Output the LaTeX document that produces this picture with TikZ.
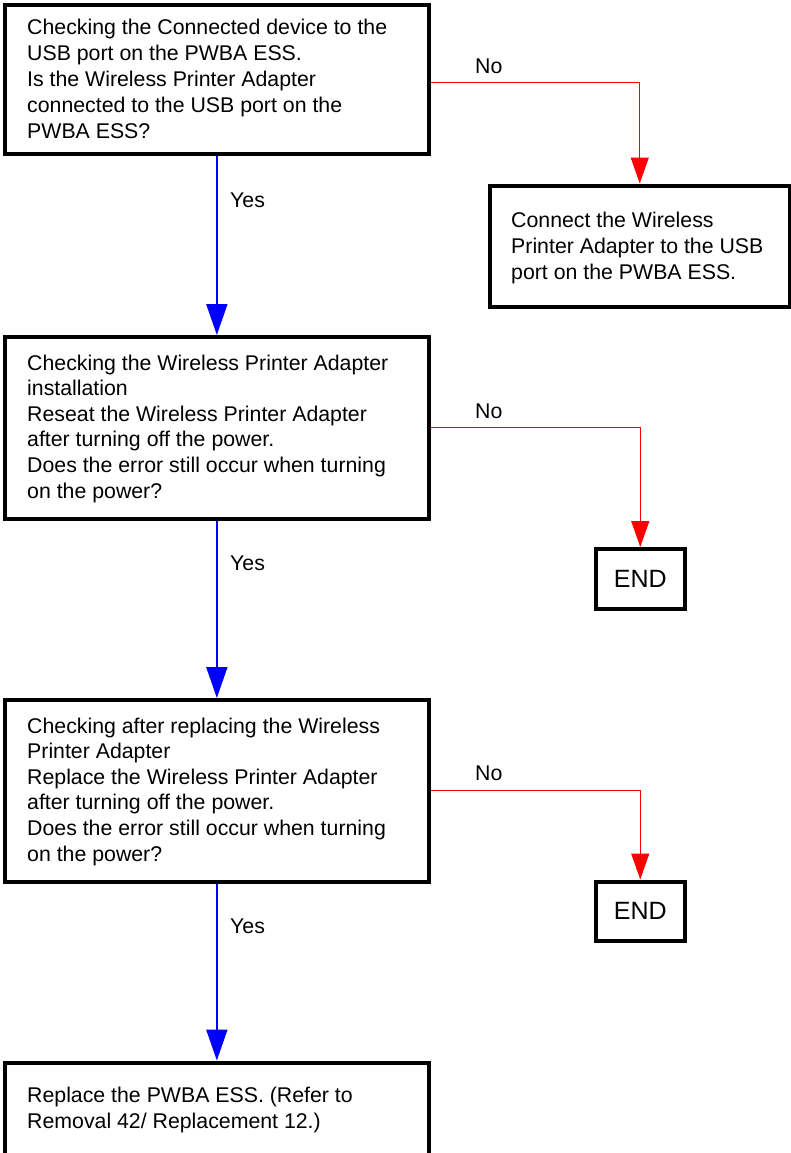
\documentclass[tikz,border=0pt]{standalone}
\usepackage{fontspec}
\setmainfont{Liberation Sans}
\usetikzlibrary{arrows.meta}
\tikzset{
  box/.style={draw=black, line width=4pt, rectangle, inner sep=0pt, fill=white},
  txt/.style={align=left, inner sep=0pt, anchor=base west, font=\fontsize{21.3pt}{26pt}\selectfont},
  txtb/.style={align=left, inner sep=0pt, anchor=base west, font=\fontsize{21.3pt}{25.6pt}\selectfont},
  lbl/.style={inner sep=0pt, anchor=base west, font=\fontsize{21.3pt}{26pt}\selectfont},
  endtxt/.style={font=\fontsize{25pt}{30pt}\selectfont},
  yesarrow/.style={draw=blue, line width=2pt, -{Triangle[length=31pt,width=21pt]}},
  noarrow/.style={draw=red, line width=1pt, -{Triangle[length=26pt,width=18pt]}}
}
\begin{document}
\begin{tikzpicture}[x=1pt,y=-1pt]
\useasboundingbox (0,0) rectangle (791,1153);
\clip (0,0) rectangle (791,1153);
\fill[white] (0,0) rectangle (791,1153);
% boxes
\node[box, minimum width=423.7pt, minimum height=148.5pt] (b1) at (216.85,79.25) {};
\node[box, minimum width=300.5pt, minimum height=121pt] (b2) at (639.75,246) {};
\node[box, minimum width=423.7pt, minimum height=181.5pt] (b3) at (216.85,427.75) {};
\node[box, minimum width=89.5pt, minimum height=59.5pt, endtxt] (e1) at (640.25,578.75) {END};
\node[box, minimum width=423.7pt, minimum height=181.5pt] (b4) at (216.85,790.75) {};
\node[box, minimum width=89.5pt, minimum height=59pt, endtxt] (e2) at (640.25,911) {END};
\node[box, minimum width=423.7pt, minimum height=137.5pt] (b5) at (216.85,1131.25) {};
% texts (anchored at the baseline of the last line)
\node[txt] (t1) at (27,139) {Checking the Connected device to the\\USB port on the PWBA ESS.\\Is the Wireless Printer Adapter\\connected to the USB port on the\\PWBA ESS?};
\node[txt] (t2) at (511,279) {Connect the Wireless\\Printer Adapter to the USB\\port on the PWBA ESS.};
\node[txtb] (t3) at (27,498) {Checking the Wireless Printer Adapter\\installation\\Reseat the Wireless Printer Adapter\\after turning off the power.\\Does the error still occur when turning\\on the power?};
\node[txtb] (t4) at (27,861) {Checking after replacing the Wireless\\Printer Adapter\\Replace the Wireless Printer Adapter\\after turning off the power.\\Does the error still occur when turning\\on the power?};
\node[txt] (t5) at (27,1128) {Replace the PWBA ESS. (Refer to\\Removal 42/ Replacement 12.)};
% connectors
\draw[yesarrow] (b1.south) -- (b3.north);
\draw[yesarrow] (b3.south) -- (b4.north);
\draw[yesarrow] (b4.south) -- (b5.north);
\draw[noarrow] ([yshift=-3.75pt]b1.east) -| (b2.north);
\draw[noarrow] (b3.east) -| (e1.north);
\draw[noarrow] (b4.east) -| (e2.north);
% labels
\node[lbl] (y1) at (230,207) {Yes};
\node[lbl] (y2) at (230,570) {Yes};
\node[lbl] (y3) at (230,933) {Yes};
\node[lbl] (n1) at (475,74) {No};
\node[lbl] (n2) at (475,418) {No};
\node[lbl] (n3) at (475,780) {No};
\end{tikzpicture}
\end{document}
